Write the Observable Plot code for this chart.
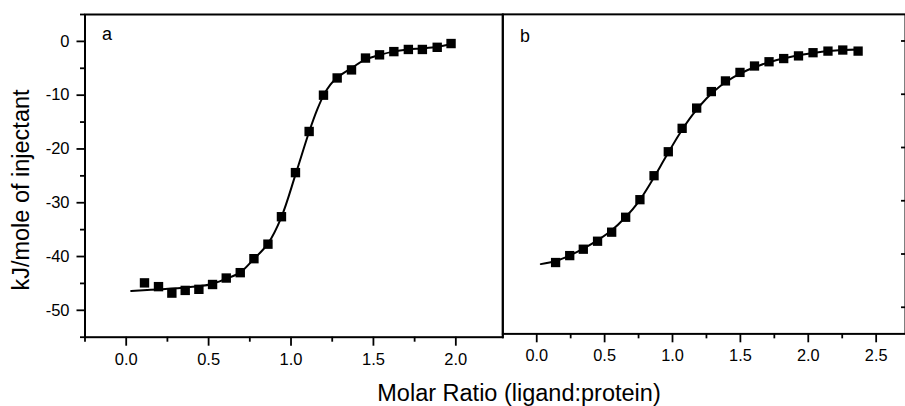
<!DOCTYPE html>
<html>
<head>
<meta charset="utf-8">
<script src="https://cdn.jsdelivr.net/npm/d3@7"></script>
<script src="https://cdn.jsdelivr.net/npm/@observablehq/plot@0.6"></script>
<style>
  html, body { margin: 0; padding: 0; background: #fff; }
  #wrap { position: relative; width: 905px; height: 406px; overflow: hidden; background: #fff; font-family: "Liberation Sans", Arial, sans-serif; color: #000; }
  #left, #right { position: absolute; top: 0; }
  #left { left: 0; }
  #right { left: 501px; }
  .ytitle { position: absolute; left: 22.3px; top: 190px; font-size: 23.5px; line-height: 1; white-space: nowrap; transform: translate(-50%, -50%) rotate(-90deg); }
  .xtitle { position: absolute; left: 519px; top: 382px; font-size: 23.5px; line-height: 1; white-space: nowrap; transform: translateX(-50%); }
</style>
</head>
<body>
<div id="wrap">
  <div id="left"></div>
  <div id="right"></div>
  <div class="ytitle">kJ/mole of injectant</div>
  <div class="xtitle">Molar Ratio (ligand:protein)</div>
</div>
<script>
// ---- Panel a: measured points ----
const ratioA = [0.111, 0.196, 0.277, 0.358, 0.441, 0.524, 0.607, 0.692, 0.775, 0.860, 0.942, 1.027, 1.110, 1.197, 1.280, 1.367, 1.452, 1.537, 1.624, 1.712, 1.797, 1.887, 1.971];
const heatA  = [-44.9, -45.6, -46.8, -46.3, -46.1, -45.2, -44.0, -43.0, -40.4, -37.7, -32.6, -24.4, -16.75, -10.0, -6.8, -5.3, -3.1, -2.5, -1.9, -1.5, -1.5, -1.1, -0.4];
// ---- Panel a: fitted curve ----
const fitRatioA = [0.03, 0.15, 0.30, 0.45, 0.52, 0.60, 0.69, 0.77, 0.86, 0.94, 1.03, 1.11, 1.16, 1.20, 1.24, 1.28, 1.37, 1.45, 1.54, 1.62, 1.71, 1.80, 1.89, 1.97];
const fitHeatA  = [-46.4, -46.2, -45.9, -45.5, -45.1, -44.2, -43.0, -40.6, -37.6, -32.8, -24.5, -16.8, -12.6, -9.9, -8.0, -6.7, -4.9, -3.4, -2.5, -1.9, -1.5, -1.3, -1.0, -0.5];

// ---- Panel b: measured points ----
const ratioB = [0.139, 0.243, 0.343, 0.448, 0.552, 0.655, 0.760, 0.864, 0.969, 1.071, 1.178, 1.286, 1.390, 1.497, 1.604, 1.711, 1.819, 1.928, 2.035, 2.145, 2.254, 2.367];
const heatB  = [-41.6, -40.3, -39.1, -37.6, -35.9, -33.1, -29.8, -25.3, -20.8, -16.4, -12.6, -9.5, -7.5, -5.9, -4.7, -3.9, -3.3, -2.8, -2.2, -1.9, -1.7, -1.9];
// ---- Panel b: fitted curve ----
const fitRatioB = [0.03, 0.14, 0.25, 0.35, 0.45, 0.55, 0.65, 0.75, 0.85, 0.95, 1.05, 1.15, 1.25, 1.35, 1.45, 1.55, 1.65, 1.75, 1.85, 1.95, 2.05, 2.15, 2.25, 2.37];
const fitHeatB  = [-41.9, -41.3, -40.2, -38.9, -37.4, -35.6, -33.2, -30.2, -26.2, -21.8, -17.5, -13.8, -10.8, -8.5, -6.8, -5.5, -4.5, -3.7, -3.1, -2.6, -2.2, -1.9, -1.7, -1.6];

// ---- Ticks ----
const yMajor = [0, -10, -20, -30, -40, -50];
const yMinor = [5, -5, -15, -25, -35, -45, -55];
const xMajorA = [0, 0.5, 1.0, 1.5, 2.0];
const xMinorA = [-0.25, 0.25, 0.75, 1.25, 1.75];
const xMajorB = [0, 0.5, 1.0, 1.5, 2.0, 2.5];
const xMinorB = [-0.25, 0.25, 0.75, 1.25, 1.75, 2.25, 2.75];
const panelLabels = ["a", "b"];

const ptsA = ratioA.map((x, i) => ({x, y: heatA[i]}));
const fitA = fitRatioA.map((x, i) => ({x, y: fitHeatA[i]}));
const ptsB = ratioB.map((x, i) => ({x, y: heatB[i]}));
const fitB = fitRatioB.map((x, i) => ({x, y: fitHeatB[i]}));

const fmt1 = d3.format(".1f");
const blank = () => "";
const common = {
  height: 372,
  marginTop: 14,
  marginBottom: 35.3,
  y: {domain: [-55, 5], axis: null},
  style: {fontFamily: "'Liberation Sans', Arial, sans-serif", fontSize: "16.5px", color: "#000", background: "transparent", overflow: "visible"}
};

const left = Plot.plot({
  ...common,
  width: 504,
  marginLeft: 84.5,
  marginRight: 1.7,
  x: {domain: [-0.25, 2.285], axis: null},
  marks: [
    Plot.axisX({ticks: xMinorA, tickSize: 5, tickFormat: blank, label: null, strokeWidth: 1.8}),
    Plot.axisX({ticks: xMajorA, tickSize: 9, tickPadding: 7, tickFormat: fmt1, label: null, strokeWidth: 1.8}),
    Plot.axisY({ticks: yMinor, tickSize: 4.5, tickFormat: blank, label: null, strokeWidth: 1.8}),
    Plot.axisY({ticks: yMajor, tickSize: 8, tickPadding: 7.5, tickFormat: d => String(d), label: null, strokeWidth: 1.8}),
    Plot.frame({stroke: "#000", strokeWidth: 2}),
    Plot.line(fitA, {x: "x", y: "y", stroke: "#000", strokeWidth: 2, curve: "catmull-rom"}),
    Plot.dot(ptsA, {x: "x", y: "y", symbol: "square", fill: "#000", stroke: "none", r: 5.3}),
    Plot.text([panelLabels[0]], {text: d => d, frameAnchor: "top-left", textAnchor: "start", lineAnchor: "top", dx: 17, dy: 12.4, fontSize: 18})
  ]
});
document.getElementById("left").appendChild(left);

const right = Plot.plot({
  ...common,
  width: 408,
  marginLeft: 1.3,
  marginRight: 0,
  x: {domain: [-0.25, 2.716], axis: null},
  marks: [
    Plot.axisX({ticks: xMinorB, tickSize: 5, tickFormat: blank, label: null, strokeWidth: 1.8}),
    Plot.axisX({ticks: xMajorB, tickSize: 9, tickPadding: 7, tickFormat: fmt1, label: null, strokeWidth: 1.8}),
    Plot.axisY({ticks: yMajor, anchor: "right", tickSize: -5, tickFormat: blank, label: null, strokeWidth: 1.8}),
    Plot.frame({stroke: "#000", strokeWidth: 2}),
    Plot.line(fitB, {x: "x", y: "y", stroke: "#000", strokeWidth: 2, curve: "catmull-rom"}),
    Plot.dot(ptsB, {x: "x", y: "y", symbol: "square", fill: "#000", stroke: "none", r: 5.3}),
    Plot.text([panelLabels[1]], {text: d => d, frameAnchor: "top-left", textAnchor: "start", lineAnchor: "top", dx: 17.5, dy: 15.5, fontSize: 18})
  ]
});
document.getElementById("right").appendChild(right);
</script>
</body>
</html>
